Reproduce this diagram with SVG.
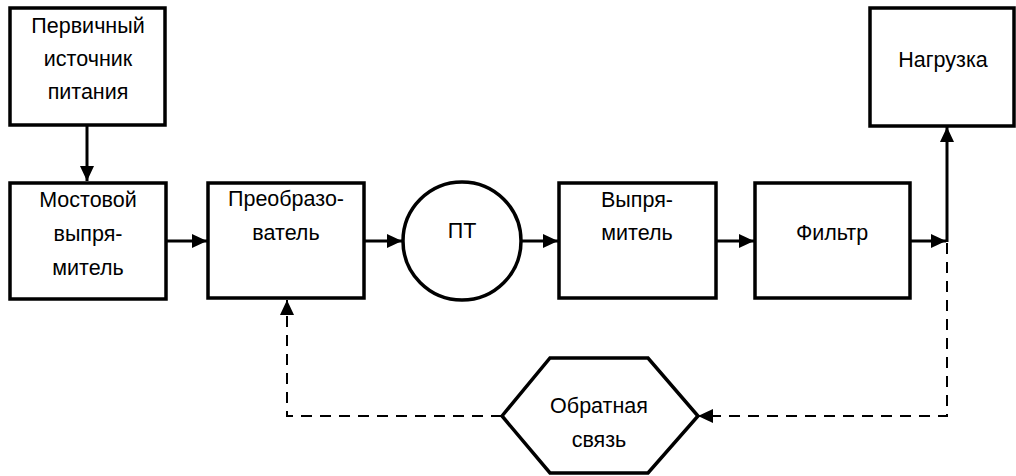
<svg xmlns="http://www.w3.org/2000/svg" width="1016" height="476" viewBox="0 0 1016 476">
  <style>
    .box { fill: #fff; stroke: #000; stroke-width: 3.5; }
    .lbl { font-family: "Liberation Sans", Arial, sans-serif; font-size: 21.5px; fill: #000; text-anchor: middle; }
    .wire { fill: none; stroke: #000; stroke-width: 3; }
    .dash { fill: none; stroke: #000; stroke-width: 2; stroke-dasharray: 11 8; }
  </style>
  <defs>
    <marker id="arrow" viewBox="0 0 15 14" refX="15" refY="7" markerWidth="15" markerHeight="14" markerUnits="userSpaceOnUse" orient="auto">
      <path d="M0,0 L15,7 L0,14 Z" fill="#000"/>
    </marker>
  </defs>

  <rect width="1016" height="476" fill="#fff"/>

  <g id="connectors">
    <line class="wire" x1="87" y1="126" x2="87" y2="181" marker-end="url(#arrow)"/>
    <line class="wire" x1="166" y1="241" x2="207" y2="241" marker-end="url(#arrow)"/>
    <line class="wire" x1="364" y1="241" x2="402" y2="241" marker-end="url(#arrow)"/>
    <line class="wire" x1="522" y1="241" x2="558" y2="241" marker-end="url(#arrow)"/>
    <line class="wire" x1="716" y1="241" x2="754" y2="241" marker-end="url(#arrow)"/>
    <line class="wire" x1="910" y1="241" x2="946" y2="241" marker-end="url(#arrow)"/>
    <line class="wire" x1="947" y1="242" x2="947" y2="127" marker-end="url(#arrow)"/>
    <polyline class="dash" points="947,243 947,416 698,416" marker-end="url(#arrow)"/>
    <polyline class="dash" points="502,416 287,416 287,300" marker-end="url(#arrow)"/>
  </g>

  <g id="source">
    <rect class="box" x="10" y="8" width="155" height="117"/>
    <text class="lbl" x="88" y="33">Первичный</text>
    <text class="lbl" x="88" y="66">источник</text>
    <text class="lbl" x="88" y="99">питания</text>
  </g>

  <g id="bridge">
    <rect class="box" x="10" y="183" width="156" height="116"/>
    <text class="lbl" x="88" y="207">Мостовой</text>
    <text class="lbl" x="88" y="241">выпря-</text>
    <text class="lbl" x="88" y="275">митель</text>
  </g>

  <g id="converter">
    <rect class="box" x="208" y="183" width="156" height="115"/>
    <text class="lbl" x="286" y="206">Преобразо-</text>
    <text class="lbl" x="286" y="240">ватель</text>
  </g>

  <g id="transformer">
    <circle class="box" cx="462" cy="241" r="59"/>
    <text class="lbl" x="462" y="238">ПТ</text>
  </g>

  <g id="rectifier">
    <rect class="box" x="559" y="183" width="157" height="115"/>
    <text class="lbl" x="637" y="207">Выпря-</text>
    <text class="lbl" x="637" y="240">митель</text>
  </g>

  <g id="filter">
    <rect class="box" x="755" y="183" width="155" height="115"/>
    <text class="lbl" x="832" y="240">Фильтр</text>
  </g>

  <g id="load">
    <rect class="box" x="870" y="8" width="144" height="118"/>
    <text class="lbl" x="943" y="67">Нагрузка</text>
  </g>

  <g id="feedback">
    <polygon class="box" points="502,416 550,358 648,358 698,416 648,473 550,473"/>
    <text class="lbl" x="599" y="413">Обратная</text>
    <text class="lbl" x="599" y="447">связь</text>
  </g>
</svg>
